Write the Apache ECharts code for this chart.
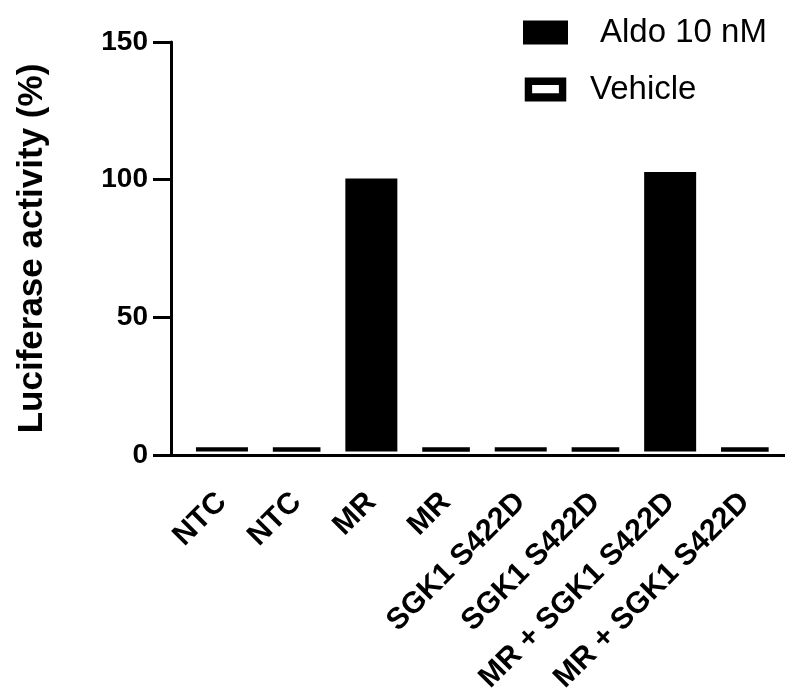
<!DOCTYPE html>
<html>
<head>
<meta charset="utf-8">
<script src="https://cdn.jsdelivr.net/npm/echarts@6/dist/echarts.min.js"></script>
<style>
  body { margin: 0; background: #fff; }
  #chart { width: 785px; height: 696px; }
</style>
</head>
<body>
<div id="chart"></div>
<script>
// data
const categories = ['NTC', 'NTC', 'MR', 'MR', 'SGK1 S422D', 'SGK1 S422D', 'MR + SGK1 S422D', 'MR + SGK1 S422D'];
const aldo = [1.6, null, 100, null, 1.6, null, 102.4, null];
const vehicle = [null, 1.6, null, 1.6, null, 1.6, null, 1.6];
const yTicks = [0, 50, 100, 150];

const chart = echarts.init(document.getElementById('chart'));
const font = 'Liberation Sans, Arial, sans-serif';

let option = {
  animation: false,
  backgroundColor: '#fff',
  legend: {
    orient: 'vertical',
    left: 523,
    top: 16,
    padding: 0,
    itemGap: 24,
    itemWidth: 45,
    itemHeight: 24,
    textStyle: { fontFamily: font, fontSize: 33, lineHeight: 32, color: '#000', padding: [0, 0, 0, 17] },
    data: [
      { name: 'Aldo 10 nM', icon: 'rect', itemStyle: { color: '#000', borderWidth: 0 },
        textStyle: { padding: [0, 0, 0, 27] } },
      { name: 'Vehicle', icon: 'path://M0,0H45V26H0Z M8,8V17H37V8Z', itemStyle: { color: '#000', borderWidth: 0 } }
    ]
  },
  // grid 0 carries the visible axes, grid 1 the bars (categories start a bit right of the y axis)
  grid: [
    { left: 171, right: 0, top: 42, bottom: 241 },
    { left: 184.6, right: 2.8, top: 42, bottom: 241 }
  ],
  xAxis: [
    {
      gridIndex: 0, type: 'value', min: 0, max: 1,
      axisLine: { show: true, lineStyle: { color: '#000', width: 3 } },
      axisTick: { show: false }, axisLabel: { show: false }, splitLine: { show: false }
    },
    {
      gridIndex: 1, type: 'category', data: categories,
      axisLine: { show: false }, axisTick: { show: false },
      axisLabel: {
        interval: 0, rotate: 45, margin: 46,
        fontFamily: font, fontSize: 30, fontWeight: 'bold', color: '#000'
      }
    }
  ],
  yAxis: [
    {
      gridIndex: 0, type: 'value', min: 0, max: 150, interval: 50,
      name: 'Luciferase activity (%)', nameLocation: 'middle', nameGap: 121,
      nameTextStyle: { fontFamily: font, fontSize: 35, fontWeight: 'bold', color: '#000' },
      axisLine: { show: true, lineStyle: { color: '#000', width: 3 } },
      axisTick: { show: true, length: 18, lineStyle: { color: '#000', width: 3 } },
      axisLabel: {
        margin: 23, fontFamily: font, fontSize: 28, fontWeight: 'bold', color: '#000',
        formatter: v => yTicks.includes(v) ? String(v) : ''
      },
      splitLine: { show: false }
    },
    {
      gridIndex: 1, type: 'value', min: 0, max: 150, show: false
    }
  ],
  series: [
    {
      name: 'Aldo 10 nM', type: 'bar', stack: 'a',
      xAxisIndex: 1, yAxisIndex: 1, barWidth: 52,
      itemStyle: { color: '#000' },
      data: aldo
    },
    {
      name: 'Vehicle', type: 'bar', stack: 'a',
      xAxisIndex: 1, yAxisIndex: 1, barWidth: 52,
      itemStyle: { color: '#fff', borderColor: '#000', borderWidth: 4.5 },
      data: vehicle
    }
  ]
};

chart.setOption(option);
</script>
</body>
</html>
